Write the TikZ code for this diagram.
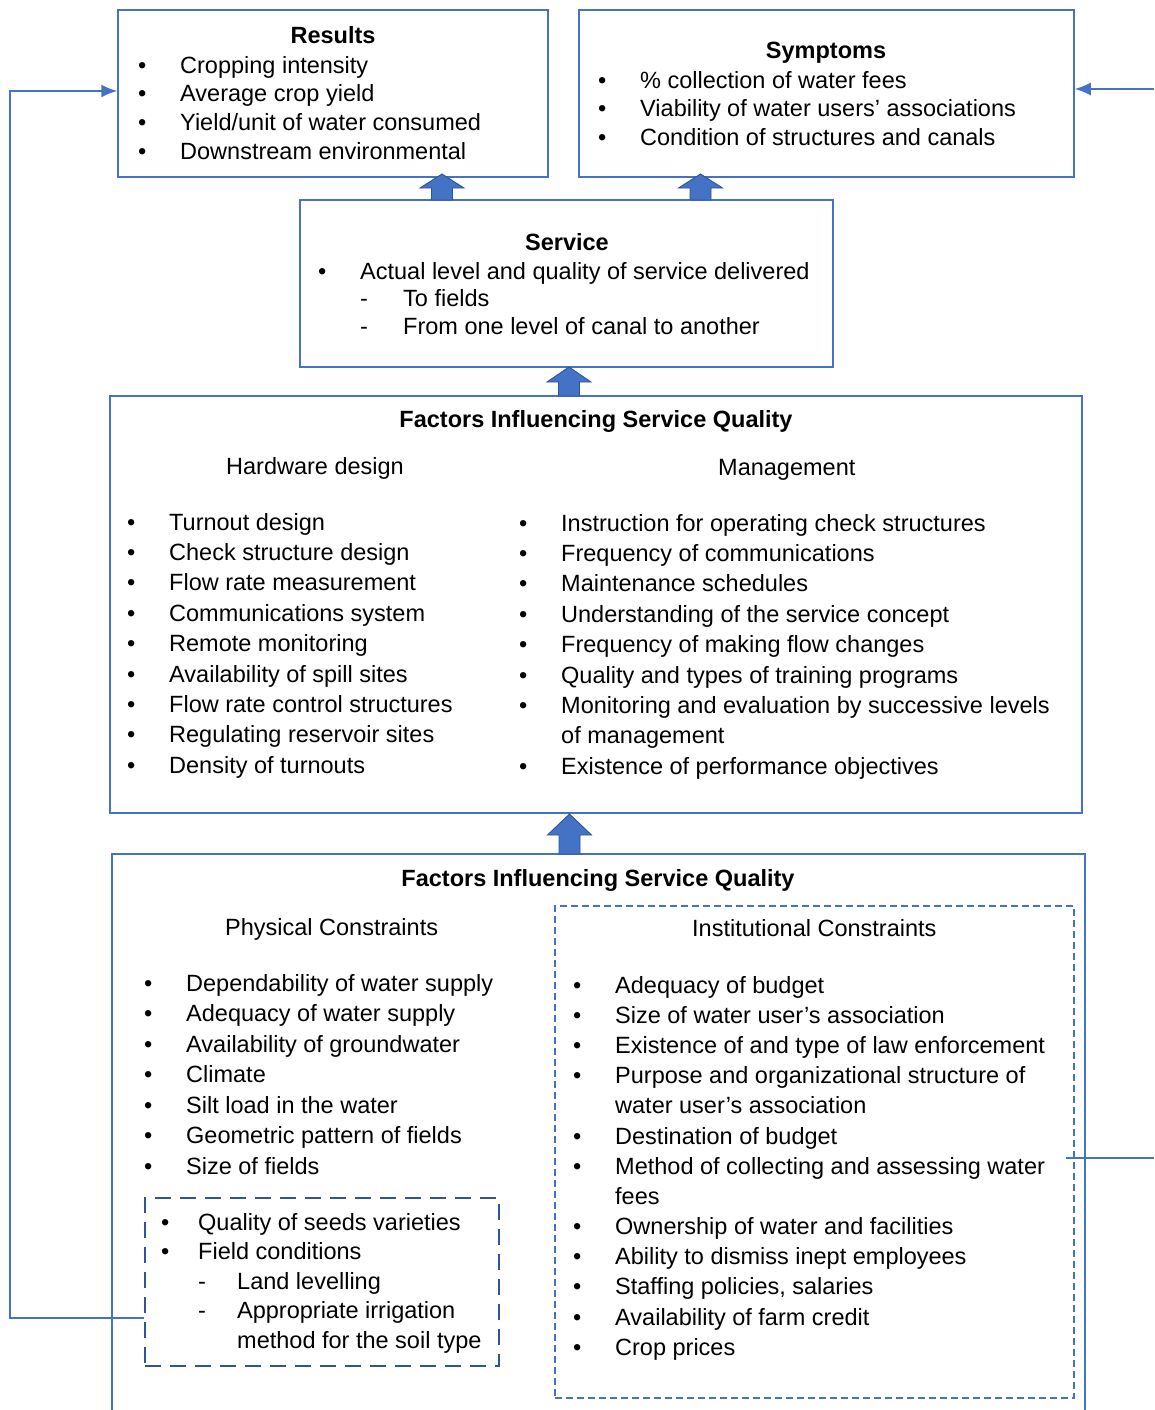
\documentclass[tikz,border=0pt]{standalone}
\usepackage{fontspec}
\setmainfont{Liberation Sans}
\usetikzlibrary{fit,arrows.meta}
\definecolor{boxblue}{HTML}{4472C4}
\definecolor{darkblue}{HTML}{2F5597}
\newcommand\bitem[1][42pt]{\strut\makebox[#1][l]{\textbullet}}
\newcommand\ditem[2][42pt]{\strut\hspace*{#1}\makebox[#2][l]{-}}
\newcommand\citem[1][42pt]{\strut\hspace*{#1}}
\newcommand\blockup[4]{\draw[blockarr] (#1-10.5,#4) -- (#1-10.5,#3) -- (#1-22,#3) -- (#1,#2) -- (#1+22,#3) -- (#1+10.5,#3) -- (#1+10.5,#4) -- cycle;}
\begin{document}
\begin{tikzpicture}[x=1pt,y=-1pt,
    box/.style={draw=boxblue,line width=1.5pt,inner sep=0pt},
    dbox/.style={draw=boxblue,dash pattern=on 7pt off 4pt,line width=1.2pt,inner sep=0pt},
    pbox/.style={draw=darkblue,dash pattern=on 16pt off 9pt,line width=1.6pt,inner sep=0pt},
    title/.style={font=\fontsize{23.5}{28}\selectfont\bfseries,anchor=base,inner sep=0pt},
    head/.style={font=\fontsize{23.5}{28}\selectfont,anchor=base west,inner sep=0pt},
    list/.style={anchor=north west,align=left,inner sep=0pt,font=\fontsize{23.5}{#1}\selectfont},
    link/.style={draw=boxblue,line width=1.6pt},
    blockarr/.style={fill=boxblue,draw=darkblue,line width=0.9pt,line join=miter}]

    \useasboundingbox (0,0) rectangle (1154,1410);

    % boxes
    \node[box,fit={(118,10) (548,177)}] (res) {};
    \node[box,fit={(579,10) (1074,177)}] (sym) {};
    \node[box,fit={(300,200) (833,367)}] (serv) {};
    \node[box,fit={(110,396) (1082,813)}] (hwm) {};
    \node[box,fit={(112,854) (1085,1440)}] (cons) {};
    \node[dbox,fit={(555,906) (1074,1398)}] (inst) {};
    \node[pbox,fit={(145,1198) (499,1366)}] (physd) {};

    % results
    \node[title] (restitle) at (333,44) {Results};
    \node[list=28.7] (reslist) at (138,52.9) {\bitem Cropping intensity\\
        \bitem Average crop yield\\
        \bitem Yield/unit of water consumed\\
        \bitem Downstream environmental};

    % symptoms
    \node[title] (symtitle) at (826,59) {Symptoms};
    \node[list=28.5] (symlist) at (598,68) {\bitem \% collection of water fees\\
        \bitem Viability of water users’ associations\\
        \bitem Condition of structures and canals};

    % service
    \node[title] (servtitle) at (567,250) {Service};
    \node[list=27.5] (servlist) at (318,259.75) {\bitem Actual level and quality of service delivered\\
        \ditem{43pt}To fields\\
        \ditem{43pt}From one level of canal to another};

    % hardware and management
    \node[title] (hwmtitle) at (596,427) {Factors Influencing Service Quality};
    \node[head] (hwhead) at (226,474) {Hardware design};
    \node[head] (mghead) at (718,475) {Management};
    \node[list=30.4] (hwlist) at (127,508.7) {\bitem Turnout design\\
        \bitem Check structure design\\
        \bitem Flow rate measurement\\
        \bitem Communications system\\
        \bitem Remote monitoring\\
        \bitem Availability of spill sites\\
        \bitem Flow rate control structures\\
        \bitem Regulating reservoir sites\\
        \bitem Density of turnouts};
    \node[list=30.4] (mglist) at (519,509.7) {\bitem Instruction for operating check structures\\
        \bitem Frequency of communications\\
        \bitem Maintenance schedules\\
        \bitem Understanding of the service concept\\
        \bitem Frequency of making flow changes\\
        \bitem Quality and types of training programs\\
        \bitem Monitoring and evaluation by successive levels\\
        \citem of management\\
        \bitem Existence of performance objectives};

    % constraints
    \node[title] (constitle) at (598,886) {Factors Influencing Service Quality};
    \node[head] (physhead) at (225,935) {Physical Constraints};
    \node[head] (insthead) at (692,936) {Institutional Constraints};
    \node[list=30.5] (physlist) at (144,969.65) {\bitem Dependability of water supply\\
        \bitem Adequacy of water supply\\
        \bitem Availability of groundwater\\
        \bitem Climate\\
        \bitem Silt load in the water\\
        \bitem Geometric pattern of fields\\
        \bitem Size of fields};
    \node[list=29.5] (physdlist) at (161,1209.35) {\bitem[37pt]Quality of seeds varieties\\
        \bitem[37pt]Field conditions\\
        \ditem[37pt]{39pt}Land levelling\\
        \ditem[37pt]{39pt}Appropriate irrigation\\
        \citem[76pt]method for the soil type};
    \node[list=30.17] (instlist) at (573,971.9) {\bitem Adequacy of budget\\
        \bitem Size of water user’s association\\
        \bitem Existence of and type of law enforcement\\
        \bitem Purpose and organizational structure of\\
        \citem water user’s association\\
        \bitem Destination of budget\\
        \bitem Method of collecting and assessing water\\
        \citem fees\\
        \bitem Ownership of water and facilities\\
        \bitem Ability to dismiss inept employees\\
        \bitem Staffing policies, salaries\\
        \bitem Availability of farm credit\\
        \bitem Crop prices};

    % block arrows
    \blockup{442}{174}{188}{200}
    \blockup{700.5}{174}{188}{200}
    \blockup{569}{367}{382}{396}
    \blockup{569.5}{814}{835}{854}

    % feedback lines
    \coordinate (redgelow) at (1154,1158);
    \coordinate (redgetop) at (1154,89);
    \draw[link,-{Latex[length=16pt,width=13pt]}] ([yshift=-36pt]physd.west) -| (10,91) -- ([yshift=2.5pt]res.west);
    \draw[link] ([xshift=-9pt,yshift=-6pt]inst.east) -- (redgelow);
    \draw[link,-{Latex[length=16pt,width=13pt]}] (redgetop) -- ([yshift=4.5pt]sym.east);

\end{tikzpicture}
\end{document}
